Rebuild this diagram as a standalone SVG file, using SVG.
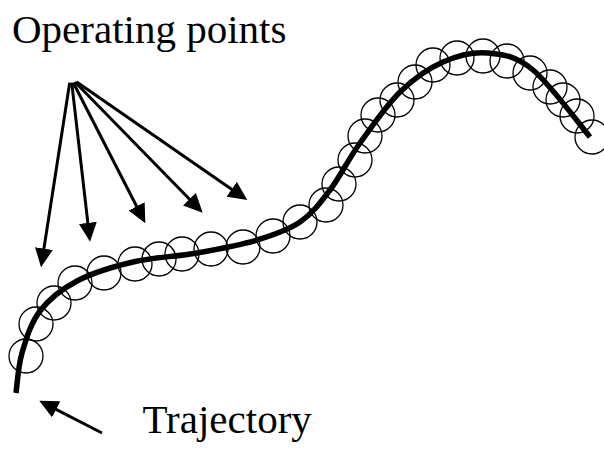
<svg xmlns="http://www.w3.org/2000/svg" width="604" height="453" viewBox="0 0 604 453">
<style>
.lbl{font-family:"Liberation Serif","Times New Roman",serif;font-size:41px;fill:#000}
.op{fill:none;stroke:#000;stroke-width:1.3}
.arr{fill:none;stroke:#000;stroke-width:3;marker-end:url(#ah)}
.traj{fill:none;stroke:#000;stroke-width:5.5;stroke-linecap:butt;stroke-linejoin:round}
</style>
<defs>
<marker id="ah" viewBox="0 0 19 18" markerWidth="19" markerHeight="18" markerUnits="userSpaceOnUse" refX="10" refY="9" orient="auto">
<path d="M0,0 L19,9 L0,18 Z" fill="#000"/>
</marker>
</defs>
<rect width="604" height="453" fill="#fff"/>
<g id="operating-points">
<circle class="op" cx="26" cy="356" r="17"/>
<circle class="op" cx="36" cy="324" r="17"/>
<circle class="op" cx="54" cy="303" r="17"/>
<circle class="op" cx="75" cy="283" r="17"/>
<circle class="op" cx="104" cy="273" r="17"/>
<circle class="op" cx="135" cy="264" r="17"/>
<circle class="op" cx="159" cy="259" r="17"/>
<circle class="op" cx="182" cy="254" r="17"/>
<circle class="op" cx="211" cy="249" r="17"/>
<circle class="op" cx="243" cy="247" r="17"/>
<circle class="op" cx="273" cy="236" r="17"/>
<circle class="op" cx="300" cy="222" r="17"/>
<circle class="op" cx="326" cy="205" r="17"/>
<circle class="op" cx="339" cy="184" r="17"/>
<circle class="op" cx="355" cy="160" r="17"/>
<circle class="op" cx="365" cy="136" r="17"/>
<circle class="op" cx="378" cy="115" r="17"/>
<circle class="op" cx="397" cy="100" r="17"/>
<circle class="op" cx="415" cy="82" r="17"/>
<circle class="op" cx="433" cy="65" r="17"/>
<circle class="op" cx="457" cy="58" r="17"/>
<circle class="op" cx="483" cy="56" r="17"/>
<circle class="op" cx="507" cy="61" r="17"/>
<circle class="op" cx="530" cy="73" r="17"/>
<circle class="op" cx="550" cy="87" r="17"/>
<circle class="op" cx="563" cy="100" r="17"/>
<circle class="op" cx="577" cy="116" r="17"/>
<circle class="op" cx="592" cy="137" r="17"/>
</g>
<g id="trajectory">
<path class="traj" d="M16,393 C17,386.3 18,366.7 22,353 C26,339.3 30.8,323 40,311 C49.2,299 61.5,289.2 77,281 C92.5,272.8 113,266.7 133,262 C153,257.3 176.3,256.7 197,253 C217.7,249.3 239.8,245.2 257,240 C274.2,234.8 287.8,230.3 300,222 C312.2,213.7 320,203.2 330,190 C340,176.8 348.3,159.3 360,143 C371.7,126.7 386.2,105.5 400,92 C413.8,78.5 428.3,68.5 443,62 C457.7,55.5 473,51.7 488,53 C503,54.3 516,56 533,70 C550,84 580.5,125.8 590,137"/>
</g>
<g id="label-operating-points">
<text class="lbl" x="12" y="43">Operating points</text>
</g>
<g id="label-trajectory">
<text class="lbl" x="142.5" y="433">Trajectory</text>
</g>
<g id="connectors">
<line class="arr" x1="69.7" y1="82.7" x2="42.4" y2="258.4"/>
<line class="arr" x1="71.7" y1="82.7" x2="89" y2="232.8"/>
<line class="arr" x1="73.3" y1="82.7" x2="141.2" y2="215.3"/>
<line class="arr" x1="75" y1="82" x2="196.4" y2="206.3"/>
<line class="arr" x1="76.7" y1="82" x2="239.9" y2="194.9"/>
<line class="arr" x1="102" y1="433" x2="47.3" y2="404.8"/>
</g>
</svg>
